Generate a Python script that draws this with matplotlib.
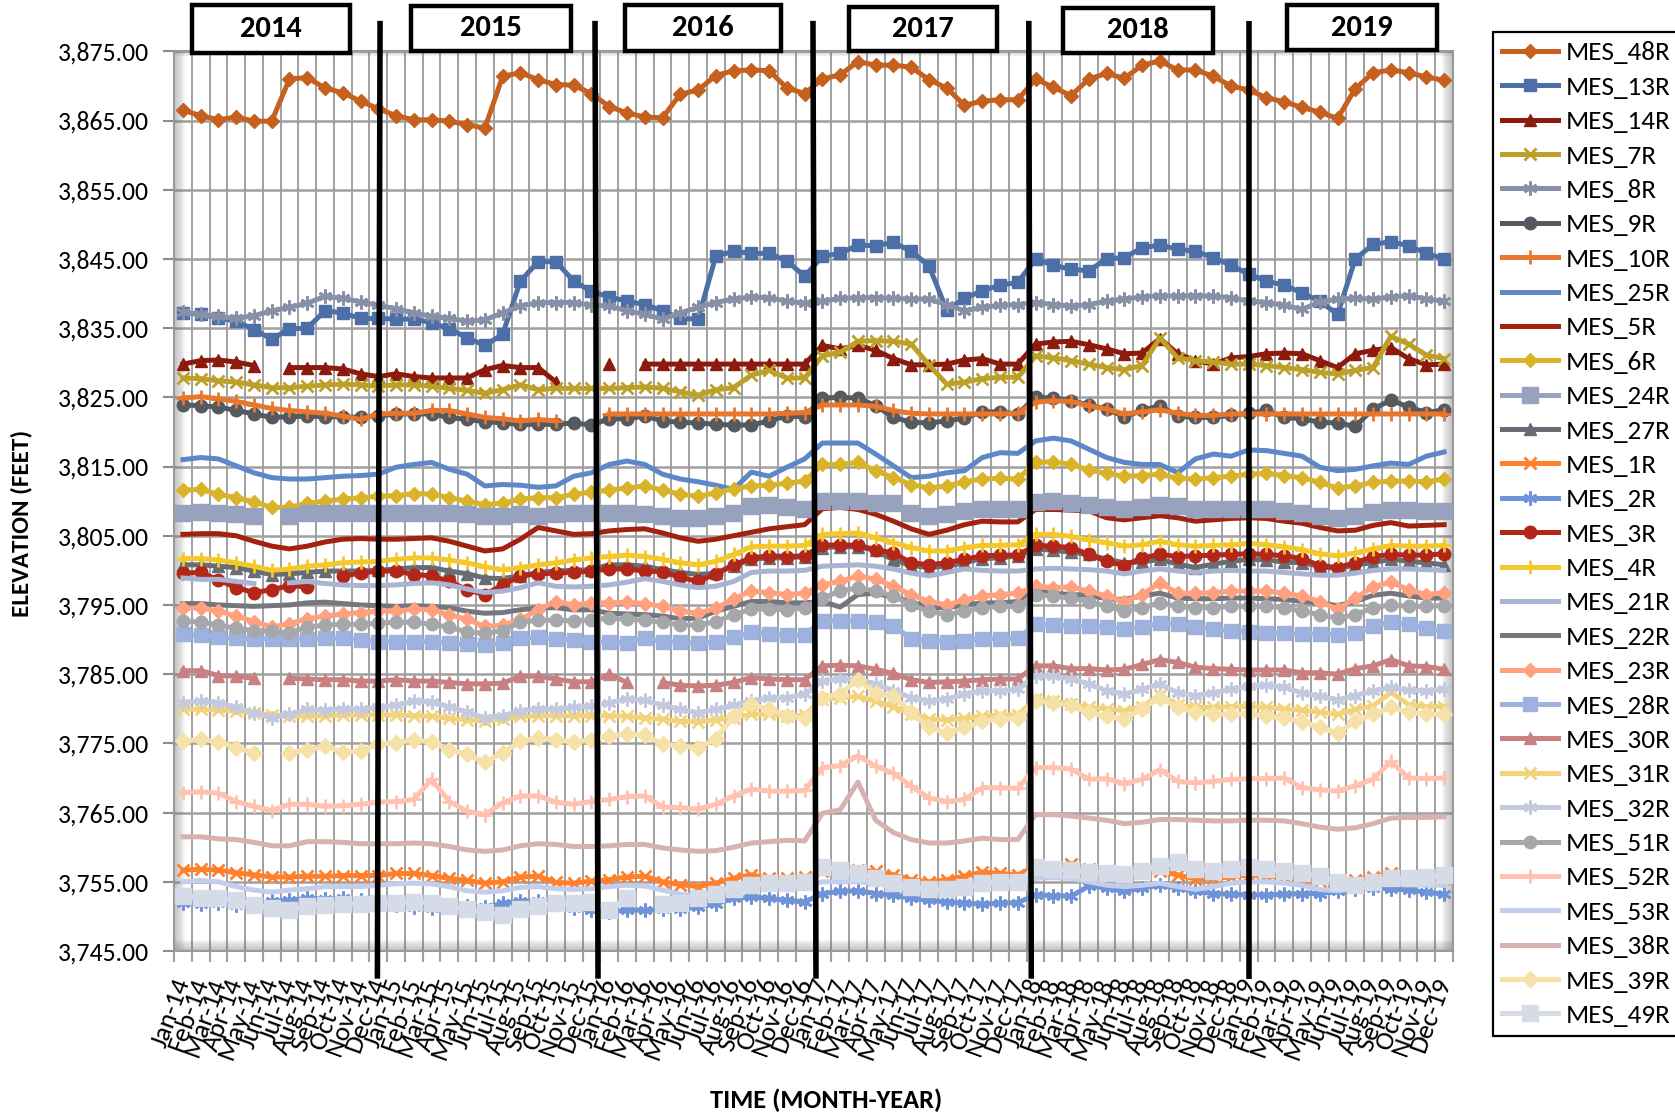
import numpy as np
import matplotlib
matplotlib.use("Agg")
import matplotlib.pyplot as plt
from matplotlib import font_manager as fm
from matplotlib.patches import Rectangle
from matplotlib.ticker import FuncFormatter

nan = np.nan

# ---------------- data ----------------
months = ['Jan', 'Feb', 'Mar', 'Apr', 'May', 'Jun', 'Jul', 'Aug', 'Sep', 'Oct', 'Nov', 'Dec']
years = ['14', '15', '16', '17', '18', '19']
year_labels = ['2014', '2015', '2016', '2017', '2018', '2019']

MES_48R = [3866.5, 3865.7, 3865.1, 3865.5, 3864.9, 3864.9, 3871.0, 3871.2, 3869.7, 3869.0, 3867.8, 3866.7,
           3865.7, 3865.1, 3865.1, 3864.9, 3864.4, 3863.9, 3871.4, 3871.9, 3870.9, 3870.2, 3870.1, 3868.9,
           3867.0, 3866.1, 3865.5, 3865.4, 3868.8, 3869.4, 3871.5, 3872.2, 3872.3, 3872.2, 3869.7, 3868.9,
           3871.0, 3871.6, 3873.5, 3873.0, 3873.0, 3872.7, 3870.9, 3869.7, 3867.2, 3867.8, 3868.0, 3868.0,
           3871.0, 3869.8, 3868.6, 3871.0, 3871.8, 3871.1, 3873.0, 3873.6, 3872.3, 3872.3, 3871.4, 3870.0,
           3869.4, 3868.3, 3867.7, 3866.9, 3866.2, 3865.3, 3869.6, 3871.9, 3872.3, 3871.9, 3871.3, 3870.8]
MES_13R = [3837.2, 3837.0, 3836.5, 3836.0, 3834.8, 3833.4, 3834.9, 3835.0, 3837.5, 3837.2, 3836.4, 3836.4,
           3836.3, 3836.3, 3835.8, 3834.9, 3833.6, 3832.5, 3834.1, 3841.8, 3844.6, 3844.6, 3841.8, 3840.3,
           3839.5, 3838.9, 3838.4, 3837.5, 3836.4, 3836.3, 3845.4, 3846.1, 3845.8, 3845.8, 3844.7, 3842.5,
           3845.4, 3845.8, 3847.0, 3846.9, 3847.4, 3846.1, 3844.0, 3837.6, 3839.3, 3840.4, 3841.2, 3841.6,
           3845.0, 3844.1, 3843.5, 3843.3, 3845.0, 3845.2, 3846.6, 3847.0, 3846.4, 3846.1, 3845.2, 3844.1,
           3842.8, 3841.8, 3841.2, 3840.1, 3838.9, 3837.0, 3845.0, 3847.1, 3847.5, 3846.9, 3845.8, 3845.0]
MES_14R = [3829.8, 3830.3, 3830.4, 3830.1, 3829.6, nan, 3829.3, 3829.3, 3829.3, 3829.1, 3828.4, 3828.0,
           3828.4, 3828.0, 3827.8, 3827.8, 3827.8, 3829.0, 3829.6, 3829.3, 3829.3, 3827.2, nan, nan,
           3829.8, nan, 3829.8, 3829.8, 3829.8, 3829.8, 3829.8, 3829.8, 3829.8, 3829.8, 3829.8, 3829.8,
           3832.5, 3832.0, 3832.5, 3831.8, 3830.6, 3829.7, 3829.7, 3829.8, 3830.4, 3830.6, 3829.8, 3829.8,
           3832.7, 3833.0, 3833.1, 3832.6, 3832.0, 3831.3, 3831.4, 3833.5, 3831.3, 3830.3, 3829.8, 3830.7,
           3830.9, 3831.3, 3831.4, 3831.3, 3830.3, 3829.3, 3831.3, 3831.8, 3832.2, 3830.6, 3829.7, 3829.8]
MES_7R = [3827.8, 3827.7, 3827.4, 3827.2, 3826.8, 3826.4, 3826.4, 3826.6, 3826.8, 3826.9, 3826.8, 3826.6,
          3826.8, 3826.8, 3826.6, 3826.3, 3826.0, 3825.6, 3826.1, 3826.8, 3826.1, 3826.3, 3826.3, 3826.3,
          3826.3, 3826.4, 3826.5, 3826.3, 3825.8, 3825.3, 3826.1, 3826.4, 3828.2, 3828.9, 3827.8, 3827.8,
          3831.0, 3831.5, 3833.1, 3833.2, 3833.1, 3832.7, 3829.7, 3826.9, 3827.2, 3827.7, 3827.9, 3827.9,
          3831.0, 3830.7, 3830.3, 3829.8, 3829.3, 3829.0, 3829.6, 3833.6, 3830.7, 3830.3, 3830.1, 3829.8,
          3829.8, 3829.6, 3829.3, 3829.0, 3828.6, 3828.4, 3828.9, 3829.3, 3833.8, 3832.7, 3831.1, 3830.6]
MES_8R = [3837.3, 3837.0, 3836.7, 3836.4, 3836.8, 3837.5, 3838.0, 3838.6, 3839.6, 3839.3, 3838.8, 3838.3,
          3837.8, 3837.2, 3836.7, 3836.4, 3836.0, 3836.2, 3837.2, 3838.2, 3838.7, 3838.7, 3838.7, 3838.3,
          3838.2, 3837.5, 3837.0, 3836.3, 3837.2, 3838.0, 3838.7, 3839.2, 3839.5, 3839.4, 3838.9, 3838.6,
          3838.9, 3839.3, 3839.4, 3839.4, 3839.3, 3839.2, 3839.2, 3838.4, 3837.5, 3838.0, 3838.3, 3838.4,
          3838.7, 3838.4, 3838.2, 3838.4, 3838.9, 3839.2, 3839.5, 3839.7, 3839.6, 3839.7, 3839.6, 3839.4,
          3838.9, 3838.7, 3838.3, 3837.7, 3838.8, 3839.2, 3839.3, 3839.2, 3839.5, 3839.7, 3839.2, 3838.9]
MES_9R = [3823.9, 3823.8, 3823.6, 3823.1, 3822.6, 3822.1, 3822.2, 3822.3, 3822.2, 3822.2, 3822.1, 3822.3,
          3822.6, 3822.6, 3822.6, 3822.1, 3821.8, 3821.5, 3821.3, 3821.1, 3821.1, 3821.1, 3821.3, 3821.0,
          3821.9, 3821.9, 3822.3, 3821.6, 3821.4, 3821.3, 3821.1, 3821.0, 3821.0, 3821.6, 3822.3, 3822.2,
          3824.9, 3825.0, 3824.9, 3823.8, 3822.1, 3821.4, 3821.3, 3821.6, 3822.0, 3822.9, 3822.9, 3822.6,
          3825.0, 3824.9, 3824.5, 3823.9, 3823.3, 3822.2, 3823.1, 3823.8, 3822.3, 3822.1, 3822.1, 3822.4,
          3822.7, 3823.1, 3822.1, 3821.9, 3821.4, 3821.3, 3820.8, 3823.3, 3824.6, 3823.6, 3822.8, 3823.2]
MES_10R = [3824.9, 3825.1, 3824.8, 3824.4, 3823.9, 3823.4, 3823.1, 3822.9, 3822.7, 3822.3, 3821.8, 3822.6,
           3822.7, 3822.7, 3823.1, 3823.1, 3822.6, 3822.1, 3821.9, 3821.6, 3821.8, 3821.6, nan, nan,
           3822.6, 3822.6, 3822.6, 3822.6, 3822.6, 3822.6, 3822.6, 3822.6, 3822.6, 3822.6, 3822.7, 3822.8,
           3823.9, 3823.9, 3823.9, 3823.7, 3823.1, 3822.7, 3822.6, 3822.6, 3822.6, 3822.6, 3822.6, 3822.7,
           3824.3, 3824.5, 3824.4, 3823.8, 3823.3, 3822.6, 3822.9, 3823.2, 3822.7, 3822.4, 3822.4, 3822.6,
           3822.6, 3822.6, 3822.6, 3822.6, 3822.6, 3822.6, 3822.6, 3822.6, 3822.6, 3822.6, 3822.6, 3822.6]
MES_25R = [3816.0, 3816.3, 3816.1, 3815.1, 3814.1, 3813.4, 3813.2, 3813.2, 3813.4, 3813.6, 3813.7, 3813.9,
           3814.9, 3815.3, 3815.6, 3814.6, 3813.9, 3812.2, 3812.4, 3812.3, 3812.0, 3812.2, 3813.6, 3814.1,
           3815.3, 3815.8, 3815.3, 3813.9, 3813.2, 3812.8, 3812.3, 3811.7, 3814.2, 3813.6, 3814.9, 3816.1,
           3818.4, 3818.4, 3818.4, 3816.8, 3815.1, 3813.4, 3813.6, 3814.1, 3814.4, 3816.3, 3817.0, 3816.9,
           3818.7, 3819.1, 3818.7, 3817.5, 3816.3, 3815.6, 3815.3, 3815.3, 3814.1, 3816.1, 3816.8, 3816.5,
           3817.4, 3817.3, 3816.9, 3816.5, 3814.9, 3814.4, 3814.6, 3815.1, 3815.5, 3815.3, 3816.5, 3817.1]
MES_5R = [3805.2, 3805.3, 3805.3, 3805.0, 3804.2, 3803.5, 3803.1, 3803.5, 3804.1, 3804.5, 3804.6, 3804.5,
          3804.5, 3804.6, 3804.7, 3804.2, 3803.5, 3802.8, 3803.1, 3804.5, 3806.2, 3805.7, 3805.2, 3805.3,
          3805.7, 3805.9, 3806.0, 3805.4, 3804.7, 3804.2, 3804.5, 3805.0, 3805.5, 3806.0, 3806.3, 3806.6,
          3808.9, 3809.1, 3808.8, 3808.1, 3807.1, 3806.0, 3805.2, 3805.8, 3806.6, 3807.1, 3807.0, 3807.0,
          3808.8, 3808.8, 3808.7, 3808.6, 3807.6, 3807.3, 3807.6, 3807.9, 3807.6, 3807.1, 3807.3, 3807.5,
          3807.6, 3807.5, 3807.1, 3806.8, 3806.2, 3805.7, 3805.8, 3806.5, 3806.9, 3806.4, 3806.5, 3806.6]
MES_6R = [3811.6, 3811.7, 3811.0, 3810.5, 3809.9, 3809.1, 3809.1, 3809.7, 3810.0, 3810.3, 3810.5, 3810.7,
          3810.8, 3811.1, 3811.0, 3810.5, 3810.0, 3809.5, 3809.7, 3810.3, 3810.5, 3810.5, 3811.0, 3811.3,
          3811.6, 3811.9, 3812.2, 3811.6, 3811.0, 3810.7, 3811.2, 3811.8, 3812.2, 3812.3, 3812.6, 3812.9,
          3815.3, 3815.3, 3815.6, 3814.4, 3813.4, 3812.4, 3811.9, 3812.2, 3812.8, 3813.2, 3813.3, 3813.2,
          3815.6, 3815.7, 3815.3, 3814.5, 3814.0, 3813.6, 3813.7, 3813.9, 3813.3, 3813.2, 3813.4, 3813.6,
          3813.9, 3814.0, 3813.7, 3813.4, 3812.7, 3811.9, 3812.2, 3812.7, 3812.9, 3812.9, 3812.8, 3813.2]
MES_24R = [3808.3, 3808.4, 3808.3, 3808.1, 3807.9, nan, 3807.9, 3808.3, 3808.3, 3808.3, 3808.3, 3808.3,
           3808.3, 3808.3, 3808.3, 3808.3, 3808.1, 3807.9, 3807.9, 3808.1, 3807.9, 3808.1, 3808.3, 3808.3,
           3808.3, 3808.3, 3808.1, 3807.8, 3807.6, 3807.5, 3807.8, 3808.3, 3809.3, 3809.4, 3809.1, 3808.9,
           3810.0, 3810.0, 3810.0, 3809.8, 3809.8, 3808.3, 3807.9, 3808.1, 3808.6, 3808.8, 3808.9, 3808.9,
           3809.9, 3810.0, 3809.8, 3809.5, 3809.1, 3808.8, 3809.1, 3809.5, 3809.3, 3808.9, 3808.8, 3808.8,
           3808.8, 3808.9, 3808.6, 3808.3, 3807.9, 3807.6, 3807.9, 3808.4, 3808.7, 3808.7, 3808.6, 3808.6]
MES_27R = [3800.8, 3800.8, 3800.6, 3800.4, 3799.9, 3799.4, 3799.5, 3799.7, 3799.9, 3799.9, 3799.9, 3800.0,
           3800.2, 3800.4, 3800.4, 3799.9, 3799.5, 3798.9, 3798.8, 3799.2, 3799.7, 3799.9, 3800.0, 3800.1,
           3800.8, 3800.8, 3800.6, 3800.1, 3799.7, 3799.4, 3799.6, 3800.6, 3801.6, 3801.8, 3801.8, 3802.0,
           3803.3, 3803.4, 3803.4, 3802.9, 3801.5, 3800.7, 3800.4, 3800.6, 3801.1, 3801.7, 3801.8, 3802.1,
           3803.1, 3802.9, 3802.6, 3802.3, 3801.6, 3801.1, 3801.2, 3801.6, 3800.9, 3800.4, 3800.9, 3801.3,
           3801.6, 3801.5, 3801.2, 3801.1, 3800.6, 3800.2, 3800.8, 3801.1, 3801.6, 3801.3, 3801.1, 3800.8]
MES_1R = [3756.7, 3756.8, 3756.7, 3756.3, 3756.0, 3755.7, 3755.7, 3755.8, 3755.8, 3755.9, 3755.9, 3755.9,
          3756.2, 3756.2, 3755.9, 3755.5, 3755.2, 3754.8, 3755.0, 3755.7, 3755.8, 3754.9, 3754.8, 3755.1,
          3755.3, 3755.7, 3755.8, 3755.0, 3754.6, 3754.3, 3754.8, 3755.5, 3756.0, 3755.5, 3755.5, 3755.7,
          3756.5, 3756.5, 3756.7, 3756.5, 3756.0, 3755.3, 3755.0, 3755.3, 3755.8, 3756.4, 3756.2, 3756.0,
          3757.2, 3757.0, 3757.6, 3756.8, 3756.3, 3756.0, 3756.3, 3756.5, 3756.0, 3755.4, 3755.5, 3755.7,
          3756.0, 3755.8, 3755.7, 3755.4, 3755.1, 3754.8, 3755.3, 3755.7, 3756.2, 3755.5, 3755.4, 3755.5]
MES_2R = [3751.9, 3751.8, 3751.9, 3751.7, 3751.7, 3752.2, 3752.3, 3752.6, 3752.5, 3752.6, 3752.3, 3752.1,
          3751.7, 3751.4, 3751.2, 3751.4, 3751.5, 3751.3, 3751.9, 3752.2, 3752.2, 3751.9, 3751.2, 3750.9,
          3750.7, 3750.9, 3750.9, 3751.0, 3751.0, 3751.4, 3751.8, 3752.6, 3752.8, 3752.6, 3752.3, 3752.1,
          3753.3, 3753.6, 3753.7, 3753.3, 3753.1, 3752.6, 3752.3, 3752.1, 3751.9, 3751.8, 3751.9, 3752.0,
          3753.1, 3753.0, 3752.9, 3754.4, 3754.1, 3753.6, 3754.1, 3754.5, 3754.1, 3753.6, 3753.3, 3753.2,
          3753.1, 3753.1, 3753.2, 3753.3, 3753.3, 3753.6, 3753.9, 3754.1, 3754.0, 3753.8, 3753.5, 3753.2]
MES_3R = [3799.6, 3799.7, 3798.6, 3797.5, 3796.8, 3797.2, 3797.8, 3797.6, nan, 3799.2, 3799.6, 3799.9,
          3799.9, 3799.4, 3799.2, 3798.4, 3797.2, 3796.5, 3797.9, 3799.2, 3799.5, 3799.6, 3799.7, 3799.9,
          3800.2, 3800.2, 3799.9, 3799.8, 3799.0, 3798.4, 3799.5, 3800.8, 3801.8, 3802.1, 3802.0, 3802.1,
          3803.6, 3803.7, 3803.6, 3803.0, 3802.5, 3801.1, 3800.8, 3801.1, 3801.6, 3802.1, 3802.2, 3802.2,
          3803.6, 3803.5, 3803.3, 3802.3, 3801.3, 3800.7, 3801.8, 3802.3, 3802.0, 3802.1, 3802.2, 3802.3,
          3802.4, 3802.3, 3802.1, 3801.7, 3800.7, 3800.4, 3801.1, 3802.0, 3802.3, 3802.2, 3802.2, 3802.4]
MES_4R = [3801.7, 3801.7, 3801.5, 3801.1, 3800.6, 3800.0, 3800.2, 3800.6, 3800.8, 3801.1, 3801.2, 3801.3,
          3801.6, 3801.8, 3801.8, 3801.5, 3801.1, 3800.5, 3800.1, 3800.4, 3800.8, 3801.1, 3801.5, 3801.8,
          3802.0, 3802.2, 3802.0, 3801.6, 3801.1, 3800.8, 3801.3, 3802.3, 3803.4, 3803.5, 3803.5, 3803.6,
          3805.2, 3805.3, 3805.4, 3804.7, 3804.0, 3803.3, 3802.8, 3802.8, 3803.3, 3803.6, 3803.6, 3803.7,
          3805.2, 3805.2, 3804.9, 3804.4, 3804.0, 3803.5, 3803.7, 3804.2, 3803.7, 3803.5, 3803.6, 3803.7,
          3803.9, 3803.7, 3803.4, 3803.0, 3802.4, 3802.1, 3802.5, 3803.1, 3803.6, 3803.5, 3803.5, 3803.6]
MES_21R = [3798.9, 3798.7, 3798.7, 3798.4, 3798.1, nan, 3798.2, 3798.4, 3798.1, 3797.9, 3797.8, 3797.8,
           3797.9, 3798.1, 3798.2, 3797.9, 3797.3, 3796.8, 3797.0, 3797.5, 3798.2, 3797.7, 3797.6, 3797.7,
           3797.9, 3798.3, 3798.8, 3798.4, 3797.9, 3797.5, 3797.7, 3798.4, 3799.7, 3799.9, 3799.9, 3800.0,
           3800.6, 3800.7, 3800.8, 3800.6, 3800.2, 3799.6, 3799.2, 3799.7, 3800.2, 3800.0, 3799.9, 3799.9,
           3800.2, 3800.3, 3800.2, 3800.1, 3799.9, 3799.5, 3799.9, 3800.2, 3799.9, 3799.7, 3799.9, 3800.0,
           3799.9, 3799.9, 3799.7, 3799.5, 3799.3, 3799.3, 3799.6, 3800.0, 3800.2, 3800.2, 3800.1, 3800.0]
MES_22R = [3795.2, 3795.2, 3795.0, 3794.9, 3794.8, 3794.9, 3795.0, 3795.3, 3795.4, 3795.2, 3795.0, 3794.9,
           3794.8, 3794.9, 3794.8, 3794.6, 3794.1, 3793.8, 3793.9, 3794.3, 3794.6, 3794.6, 3794.3, 3794.3,
           3793.8, 3793.7, 3793.6, 3793.4, 3793.0, 3793.1, 3794.1, 3794.8, 3795.5, 3795.5, 3795.3, 3795.3,
           3795.5, 3794.7, 3796.5, 3796.7, 3796.1, 3795.5, 3794.6, 3794.6, 3795.0, 3795.3, 3795.3, 3795.5,
           3797.0, 3796.7, 3796.5, 3796.4, 3795.9, 3795.8, 3796.3, 3796.7, 3796.0, 3795.9, 3795.9, 3796.0,
           3796.0, 3795.9, 3795.8, 3795.5, 3795.3, 3794.9, 3795.5, 3796.4, 3796.7, 3796.3, 3796.0, 3796.0]
MES_23R = [3794.5, 3794.6, 3794.1, 3793.4, 3792.6, 3791.8, 3792.3, 3793.0, 3793.4, 3793.7, 3793.9, 3794.1,
           3794.1, 3794.4, 3794.3, 3793.6, 3792.9, 3791.9, 3792.1, 3792.9, 3794.3, 3795.5, 3795.0, 3795.3,
           3795.3, 3795.4, 3795.2, 3794.8, 3794.1, 3793.8, 3794.5, 3795.9, 3797.0, 3796.8, 3796.5, 3796.7,
           3797.9, 3798.4, 3799.2, 3798.7, 3797.7, 3796.5, 3795.5, 3795.0, 3795.7, 3796.3, 3796.5, 3796.7,
           3797.7, 3797.5, 3797.6, 3797.0, 3796.3, 3795.5, 3796.5, 3798.2, 3796.7, 3796.7, 3796.8, 3797.0,
           3797.0, 3797.0, 3796.7, 3796.3, 3795.5, 3794.4, 3796.0, 3797.6, 3798.3, 3797.2, 3796.5, 3796.8]
MES_28R = [3790.8, 3790.6, 3790.3, 3790.2, 3790.1, 3790.1, 3790.1, 3790.1, 3790.2, 3790.2, 3790.0, 3789.7,
           3789.7, 3789.7, 3789.7, 3789.5, 3789.3, 3789.2, 3789.5, 3790.2, 3790.3, 3790.1, 3790.0, 3789.7,
           3789.6, 3789.5, 3790.2, 3789.7, 3789.6, 3789.5, 3789.6, 3790.3, 3791.1, 3790.8, 3790.6, 3790.7,
           3792.7, 3792.7, 3792.7, 3792.5, 3792.0, 3790.1, 3789.8, 3789.7, 3789.8, 3790.1, 3790.1, 3790.2,
           3792.2, 3792.1, 3792.0, 3791.9, 3791.8, 3791.5, 3791.8, 3792.4, 3792.2, 3791.8, 3791.5, 3791.3,
           3791.1, 3791.0, 3790.9, 3790.8, 3790.8, 3790.7, 3790.9, 3792.0, 3792.5, 3792.2, 3791.6, 3791.3]
MES_30R = [3785.5, 3785.5, 3784.8, 3784.7, 3784.4, nan, 3784.4, 3784.3, 3784.2, 3784.2, 3784.0, 3784.0,
           3784.2, 3784.0, 3784.0, 3783.8, 3783.6, 3783.6, 3783.7, 3784.7, 3784.7, 3784.3, 3783.9, 3783.9,
           3785.0, 3783.8, nan, 3783.8, 3783.4, 3783.3, 3783.4, 3783.8, 3784.5, 3784.3, 3784.2, 3784.2,
           3786.2, 3786.3, 3786.2, 3785.7, 3785.1, 3784.2, 3783.8, 3783.9, 3784.0, 3784.2, 3784.3, 3784.3,
           3786.2, 3786.2, 3785.8, 3785.8, 3785.6, 3785.7, 3786.4, 3787.1, 3786.7, 3786.0, 3785.8, 3785.7,
           3785.6, 3785.6, 3785.6, 3785.2, 3785.2, 3785.0, 3785.8, 3786.2, 3787.1, 3786.2, 3786.1, 3785.7]
MES_31R = [3780.0, 3779.9, 3779.8, 3779.7, 3779.4, 3779.1, 3779.0, 3778.9, 3779.0, 3779.1, 3779.1, 3779.1,
           3779.1, 3779.0, 3778.9, 3778.6, 3778.4, 3778.2, 3778.5, 3778.9, 3779.0, 3779.0, 3779.0, 3779.0,
           3779.0, 3778.9, 3778.7, 3778.5, 3778.2, 3778.1, 3778.4, 3778.7, 3779.2, 3779.2, 3778.9, 3779.1,
           3781.4, 3781.6, 3781.8, 3781.1, 3780.3, 3779.2, 3778.5, 3778.4, 3778.6, 3778.9, 3779.1, 3779.1,
           3781.4, 3781.1, 3780.7, 3780.2, 3780.0, 3779.7, 3780.3, 3782.0, 3780.5, 3780.2, 3780.2, 3780.3,
           3780.3, 3780.2, 3780.0, 3779.8, 3779.5, 3779.2, 3779.9, 3780.4, 3782.4, 3780.6, 3780.3, 3780.3]
MES_32R = [3780.9, 3781.1, 3780.9, 3780.2, 3779.4, 3778.7, 3779.2, 3779.9, 3779.8, 3780.0, 3779.9, 3780.2,
           3780.5, 3781.1, 3781.0, 3780.3, 3779.5, 3778.7, 3779.0, 3779.7, 3780.0, 3779.9, 3780.2, 3780.4,
           3780.9, 3781.4, 3781.2, 3780.5, 3779.9, 3779.4, 3779.9, 3780.5, 3781.1, 3781.6, 3781.6, 3782.1,
           3784.0, 3784.3, 3784.2, 3783.6, 3782.6, 3781.6, 3781.1, 3781.4, 3782.1, 3782.6, 3782.6, 3782.8,
           3784.8, 3784.7, 3784.3, 3783.6, 3782.6, 3782.1, 3782.8, 3783.6, 3782.3, 3781.9, 3782.3, 3782.8,
           3783.3, 3783.4, 3783.1, 3782.3, 3781.8, 3781.3, 3781.9, 3782.6, 3783.1, 3782.7, 3782.6, 3782.8]
MES_51R = [3792.7, 3792.5, 3792.1, 3791.6, 3791.3, 3791.2, 3791.0, 3791.8, 3792.1, 3792.2, 3792.2, 3792.4,
           3792.5, 3792.5, 3792.2, 3791.8, 3791.1, 3790.9, 3791.3, 3792.5, 3792.8, 3792.8, 3792.7, 3792.8,
           3793.1, 3792.9, 3792.8, 3792.5, 3792.1, 3792.1, 3792.6, 3793.6, 3794.4, 3794.4, 3794.3, 3794.6,
           3796.0, 3797.0, 3797.5, 3797.0, 3796.3, 3795.0, 3794.1, 3793.6, 3794.1, 3794.6, 3794.8, 3794.8,
           3796.5, 3796.3, 3796.0, 3795.5, 3794.8, 3794.1, 3794.6, 3795.3, 3794.8, 3794.6, 3794.6, 3794.8,
           3794.8, 3794.8, 3794.6, 3794.1, 3793.6, 3793.1, 3793.6, 3794.6, 3795.0, 3794.8, 3794.8, 3794.9]
MES_52R = [3767.9, 3768.0, 3767.8, 3766.6, 3765.9, 3765.3, 3766.2, 3766.2, 3765.9, 3766.0, 3766.2, 3766.5,
           3766.6, 3766.9, 3769.8, 3766.6, 3765.2, 3764.7, 3766.4, 3767.4, 3767.4, 3766.5, 3766.2, 3766.6,
           3766.9, 3767.3, 3767.4, 3765.8, 3765.7, 3765.5, 3766.2, 3767.4, 3768.4, 3768.1, 3768.1, 3768.2,
           3771.5, 3771.8, 3773.2, 3771.7, 3770.7, 3768.8, 3767.1, 3766.6, 3766.9, 3768.6, 3768.6, 3768.5,
           3771.5, 3771.5, 3771.3, 3769.8, 3769.9, 3769.2, 3769.8, 3771.2, 3769.5, 3769.3, 3769.5, 3769.8,
           3769.9, 3769.9, 3770.0, 3768.6, 3768.3, 3768.1, 3768.9, 3769.8, 3772.4, 3770.0, 3769.9, 3770.0]
MES_53R = [3755.0, 3755.2, 3755.0, 3754.3, 3753.8, 3753.5, 3753.8, 3754.0, 3754.3, 3754.3, 3754.3, 3754.5,
           3754.7, 3754.8, 3754.7, 3754.3, 3753.7, 3753.5, 3753.7, 3754.2, 3754.3, 3754.0, 3753.9, 3754.0,
           3754.3, 3754.5, 3754.4, 3753.8, 3753.2, 3752.9, 3753.6, 3754.3, 3754.8, 3754.5, 3754.4, 3754.3,
           3755.0, 3755.0, 3755.0, 3754.8, 3754.3, 3753.8, 3753.6, 3753.8, 3754.3, 3754.6, 3754.8, 3754.8,
           3755.5, 3755.6, 3755.5, 3755.0, 3754.5, 3754.3, 3754.5, 3754.8, 3754.3, 3753.9, 3754.3, 3754.8,
           3755.0, 3755.0, 3754.8, 3754.5, 3753.9, 3753.7, 3754.0, 3754.5, 3754.8, 3754.7, 3754.5, 3754.5]
MES_38R = [3761.5, 3761.5, 3761.2, 3761.1, 3760.7, 3760.2, 3760.2, 3760.8, 3760.8, 3760.7, 3760.5, 3760.5,
           3760.5, 3760.6, 3760.5, 3760.1, 3759.6, 3759.4, 3759.6, 3760.2, 3760.5, 3760.4, 3760.1, 3760.1,
           3760.2, 3760.4, 3760.4, 3759.9, 3759.6, 3759.4, 3759.5, 3760.0, 3760.6, 3760.8, 3761.0, 3760.9,
           3764.9, 3765.4, 3769.4, 3763.9, 3762.1, 3761.1, 3760.6, 3760.6, 3760.9, 3761.3, 3761.1, 3761.1,
           3764.7, 3764.7, 3764.5, 3764.2, 3763.9, 3763.4, 3763.6, 3764.0, 3764.0, 3763.9, 3763.8, 3763.8,
           3763.9, 3763.9, 3763.8, 3763.4, 3762.9, 3762.6, 3762.8, 3763.4, 3764.2, 3764.3, 3764.3, 3764.4]
MES_39R = [3775.3, 3775.6, 3775.2, 3774.4, 3773.6, nan, 3773.6, 3774.1, 3774.6, 3773.7, 3773.9, 3774.9,
           3775.1, 3775.5, 3775.2, 3774.1, 3773.4, 3772.3, 3773.6, 3775.3, 3775.8, 3775.5, 3775.2, 3775.5,
           3776.1, 3776.3, 3776.2, 3774.9, 3774.6, 3774.4, 3775.6, 3779.0, 3780.7, 3779.9, 3779.0, 3778.6,
           3781.6, 3782.2, 3784.2, 3782.3, 3781.8, 3779.5, 3777.3, 3776.5, 3777.3, 3778.2, 3778.5, 3778.6,
           3781.1, 3780.9, 3780.5, 3779.5, 3778.9, 3778.5, 3780.0, 3781.6, 3780.2, 3779.5, 3779.2, 3779.2,
           3779.3, 3778.9, 3778.7, 3778.1, 3777.3, 3776.5, 3778.2, 3779.2, 3780.2, 3779.5, 3779.2, 3779.2]
MES_49R = [3752.9, 3752.7, 3752.6, 3752.3, 3751.7, 3751.2, 3750.9, 3751.5, 3751.7, 3751.8, 3751.8, 3751.9,
           3752.0, 3752.1, 3752.0, 3751.5, 3751.0, 3750.6, 3750.2, 3751.0, 3751.5, 3751.9, 3751.9, 3752.1,
           3750.9, 3752.7, nan, 3751.8, 3751.9, 3752.6, 3753.3, 3754.0, 3754.5, 3754.8, 3754.8, 3755.0,
           3757.1, 3756.7, 3756.2, 3755.5, 3754.8, 3754.3, 3753.9, 3754.0, 3754.3, 3754.8, 3755.0, 3755.0,
           3757.1, 3756.8, 3756.7, 3756.4, 3756.3, 3756.1, 3756.6, 3757.3, 3757.8, 3756.8, 3756.6, 3756.8,
           3757.1, 3756.9, 3756.6, 3756.3, 3755.8, 3755.0, 3754.5, 3755.0, 3755.6, 3755.5, 3755.7, 3756.0]

series_names = ['MES_48R', 'MES_13R', 'MES_14R', 'MES_7R', 'MES_8R', 'MES_9R', 'MES_10R', 'MES_25R',
                'MES_5R', 'MES_6R', 'MES_24R', 'MES_27R', 'MES_1R', 'MES_2R', 'MES_3R', 'MES_4R',
                'MES_21R', 'MES_22R', 'MES_23R', 'MES_28R', 'MES_30R', 'MES_31R', 'MES_32R', 'MES_51R',
                'MES_52R', 'MES_53R', 'MES_38R', 'MES_39R', 'MES_49R']
series_data = [MES_48R, MES_13R, MES_14R, MES_7R, MES_8R, MES_9R, MES_10R, MES_25R,
               MES_5R, MES_6R, MES_24R, MES_27R, MES_1R, MES_2R, MES_3R, MES_4R,
               MES_21R, MES_22R, MES_23R, MES_28R, MES_30R, MES_31R, MES_32R, MES_51R,
               MES_52R, MES_53R, MES_38R, MES_39R, MES_49R]

# ---------------- styles ----------------
AST = (6, 2, 0)
styles = {
    'MES_48R': ('#C5601F', 'D', 7), 'MES_13R': ('#4D6FA8', 's', 8), 'MES_14R': ('#8C1B0D', '^', 9),
    'MES_7R': ('#BDA027', 'x', 8), 'MES_8R': ('#8890A8', AST, 10), 'MES_9R': ('#555A61', 'o', 9),
    'MES_10R': ('#E8762D', '+', 10), 'MES_25R': ('#5C87C9', None, 0), 'MES_5R': ('#A2220F', None, 0),
    'MES_6R': ('#D9B42A', 'D', 7), 'MES_24R': ('#97A3BE', 's', 11), 'MES_27R': ('#686C73', '^', 8),
    'MES_1R': ('#FF7F2A', 'x', 8), 'MES_2R': ('#6E93D8', AST, 10), 'MES_3R': ('#B3271A', 'o', 9),
    'MES_4R': ('#F4C82B', '+', 10), 'MES_21R': ('#A9B3D2', None, 0), 'MES_22R': ('#74787E', None, 0),
    'MES_23R': ('#FFA07E', 'D', 7), 'MES_28R': ('#9EB2E0', 's', 10), 'MES_30R': ('#C88080', '^', 9),
    'MES_31R': ('#F3D27C', 'x', 8), 'MES_32R': ('#C3CADF', AST, 10), 'MES_51R': ('#A5A7AB', 'o', 9),
    'MES_52R': ('#FFC2B0', '+', 10), 'MES_53R': ('#C3CEEC', None, 0), 'MES_38R': ('#D8B1B1', None, 0),
    'MES_39R': ('#F6E1A8', 'D', 8), 'MES_49R': ('#D6DBE8', 's', 12),
}

names = {f.name for f in fm.fontManager.ttflist}
base_font = 'Carlito' if 'Carlito' in names else ('Lato' if 'Lato' in names else 'DejaVu Sans')
plt.rcParams['font.family'] = [base_font, 'DejaVu Sans']

W, H = 1675, 1118
fig = plt.figure(figsize=(W / 100, H / 100), dpi=100)
fig.patch.set_facecolor('white')

L, R, T, B = 174, 1453, 51.3, 951
ax = fig.add_axes([L / W, 1 - B / H, (R - L) / W, (B - T) / H])
ax.set_facecolor('white')

x = np.arange(72)
handles = []
for k, (name, vals) in enumerate(zip(series_names, series_data)):
    col, mk, ms = styles[name]
    kw = dict(color=col, lw=3.6, solid_joinstyle='round', zorder=3 + k * 0.01)
    if mk is not None:
        kw.update(marker=mk, markersize=ms, markerfacecolor=col, markeredgecolor=col,
                  markeredgewidth=2.0 if mk in ('x', '+', AST) else 1.0)
    ln, = ax.plot(x, np.array(vals, dtype=float), label=name, **kw)
    handles.append(ln)

ax.set_xlim(-0.5, 71.5)
ax.set_ylim(3745, 3875)
ax.set_yticks(np.arange(3745, 3876, 10))
ax.yaxis.set_major_formatter(FuncFormatter(lambda v, p: f'{v:,.2f}'))
ax.tick_params(axis='y', which='major', length=8, width=1.5, color='#8C8C8C',
               labelsize=18.5, pad=10, labelcolor='black')

tick_labels = [f'{m}-{y}' for y in years for m in months]
ax.set_xticks(x)
ax.set_xticklabels(tick_labels, rotation=70, ha='right', va='center', rotation_mode='anchor', fontsize=19.5)
ax.tick_params(axis='x', which='major', length=0, pad=20)
ax.set_xticks(np.arange(-0.5, 72, 1), minor=True)
ax.tick_params(axis='x', which='minor', length=8, width=1.5, color='#A0A0A0')

ax.grid(True, which='minor', axis='x', color='#A0A0A0', lw=1.4, zorder=1)
ax.grid(True, which='major', axis='y', color='#A0A0A0', lw=1.8, zorder=1)
ax.grid(False, which='major', axis='x')
ax.set_axisbelow(True)
for s in ax.spines.values():
    s.set_color('#9A9A9A')
    s.set_linewidth(1.5)

# inner shadow of plot area
nstep = 10
for j in range(nstep):
    a = 0.05
    wx = (nstep - j) * 1.1 / (R - L)
    wy = (nstep - j) * 1.1 / (B - T)
    ax.add_patch(Rectangle((0, 0), wx, 1, transform=ax.transAxes, color='#707070', alpha=a, lw=0, zorder=1.5))
    ax.add_patch(Rectangle((1 - wx, 0), wx, 1, transform=ax.transAxes, color='#707070', alpha=a, lw=0, zorder=1.5))
    ax.add_patch(Rectangle((0, 0), 1, wy, transform=ax.transAxes, color='#707070', alpha=a, lw=0, zorder=1.5))
    ax.add_patch(Rectangle((0, 1 - wy * 0.5), 1, wy * 0.5, transform=ax.transAxes, color='#707070', alpha=a * 0.6, lw=0, zorder=1.5))

# year divider lines (drawn across the plot and beyond it)
div_top = [11.10, 23.20, 35.47, 47.62, 60.0]
div_bot = [10.95, 23.37, 35.64, 47.76, 60.0]
y_top, y_bot = 3879.4, 3741.0
for xt, xb in zip(div_top, div_bot):
    ax.plot([xt, xb], [y_top, y_bot], color='black', lw=4.0, clip_on=False, zorder=20,
            solid_capstyle='butt')

# year boxes (figure pixel positions)
boxes = [(192, 350, 5, 53), (411, 571, 6, 51), (625, 781, 5, 51),
         (849, 997, 7, 51), (1063, 1213, 8, 53), (1287, 1437, 5, 50)]
for (x0, x1, y0, y1), lab in zip(boxes, year_labels):
    fig.patches.append(Rectangle((x0 / W, 1 - y1 / H), (x1 - x0) / W, (y1 - y0) / H,
                                 transform=fig.transFigure, facecolor='white', edgecolor='black',
                                 lw=3.2, zorder=30))
    fig.text((x0 + x1) / 2 / W, 1 - (y0 + y1) / 2 / H, lab, ha='center', va='center',
             fontsize=22, fontweight='bold', zorder=31)

# axis titles
fig.text(21 / W, 1 - 523 / H, 'ELEVATION (FEET)', rotation=90, ha='center', va='center',
         fontsize=18, fontweight='bold')
fig.text(826 / W, 1 - 1100 / H, 'TIME (MONTH-YEAR)', ha='center', va='center',
         fontsize=19, fontweight='bold')

# legend
leg = ax.legend(handles=handles, labels=series_names, loc='upper left',
                bbox_to_anchor=(1493 / W, 1 - 32 / H), bbox_transform=fig.transFigure,
                frameon=True, fancybox=False, edgecolor='black', framealpha=1,
                fontsize=19.5, handlelength=2.05, handletextpad=0.3, labelspacing=0.42,
                borderpad=0.35, borderaxespad=0, numpoints=1)
leg.get_frame().set_linewidth(1.6)
leg.set_zorder(40)

fig.savefig('out.png', dpi=100, facecolor='white')
